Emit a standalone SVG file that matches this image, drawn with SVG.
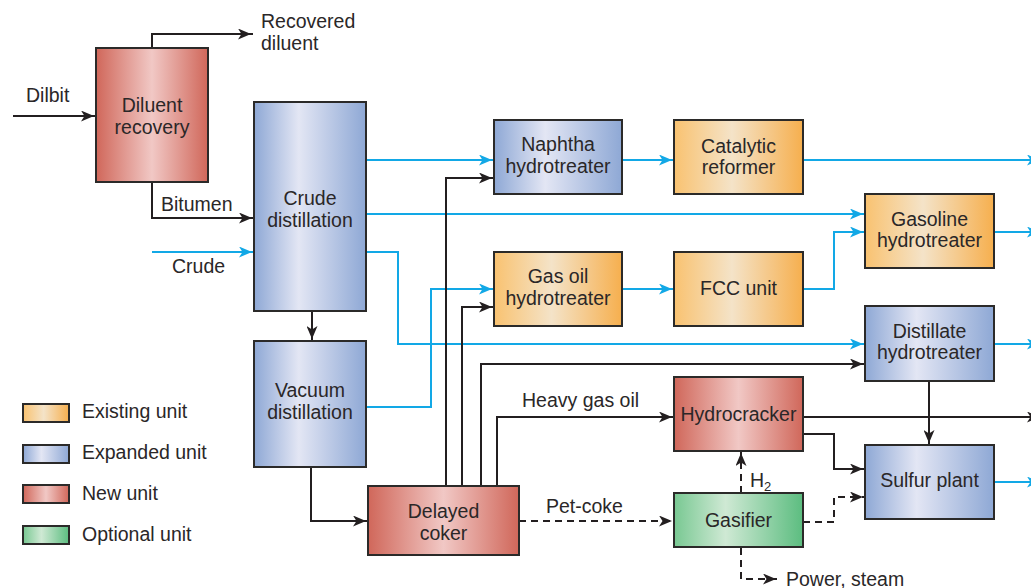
<svg xmlns="http://www.w3.org/2000/svg" width="1031" height="588" viewBox="0 0 1031 588">
<style>
text{font-family:"Liberation Sans",Arial,sans-serif;font-size:19.5px;fill:#2A2728}
.n text{text-anchor:middle}
.box{stroke:#2B2A29;stroke-width:2}
.k{fill:none;stroke:#231F20;stroke-width:2;marker-end:url(#ak)}
.b{fill:none;stroke:#12A8E6;stroke-width:2;marker-end:url(#ab)}
.d{fill:none;stroke:#231F20;stroke-width:2;stroke-dasharray:7 5}
.da{marker-end:url(#ak)}
</style>
<defs>
<linearGradient id="go"><stop offset="0" stop-color="#F9C270"/><stop offset="0.45" stop-color="#F4E3C8"/><stop offset="1" stop-color="#F6AF4E"/></linearGradient>
<linearGradient id="gb"><stop offset="0" stop-color="#8EA8D5"/><stop offset="0.4" stop-color="#E3E6F4"/><stop offset="1" stop-color="#8EA8D5"/></linearGradient>
<linearGradient id="gr"><stop offset="0" stop-color="#D0675A"/><stop offset="0.5" stop-color="#F1C8C5"/><stop offset="1" stop-color="#D0675A"/></linearGradient>
<linearGradient id="gg"><stop offset="0" stop-color="#78C892"/><stop offset="0.4" stop-color="#CFE9D4"/><stop offset="1" stop-color="#5CBD80"/></linearGradient>
<marker id="ak" markerUnits="userSpaceOnUse" viewBox="0 0 15 11" markerWidth="15" markerHeight="11" refX="15" refY="5.5" orient="auto"><path d="M0,0 L13,5.5 L0,11 L3.5,5.5 z" fill="#231F20"/></marker>
<marker id="ab" markerUnits="userSpaceOnUse" viewBox="0 0 15 11" markerWidth="15" markerHeight="11" refX="15" refY="5.5" orient="auto"><path d="M0,0 L13,5.5 L0,11 L3.5,5.5 z" fill="#12A8E6"/></marker>
</defs>
<rect width="1031" height="588" fill="#FFFFFF"/>

<g id="connectors">
<path class="k" d="M13,116 H96"/>
<path class="k" d="M152,48 V34 H253"/>
<path class="k" d="M152,182 V218 H254"/>
<path class="b" d="M152,252 H254"/>
<path class="b" d="M366,160 H494"/>
<path class="b" d="M366,214 H865"/>
<path class="b" d="M366,252 H398 V344 H865"/>
<path class="k" d="M312,311 V341"/>
<path class="b" d="M366,407 H431 V289 H494"/>
<path class="k" d="M311,467 V521 H368"/>
<path class="k" d="M446,486 V178 H494"/>
<path class="k" d="M462,486 V307 H494"/>
<path class="k" d="M481,486 V364 H865"/>
<path class="k" d="M497,486 V417 H674"/>
<path class="d da" d="M519,521 H674"/>
<path class="b" d="M622,160 H674"/>
<path class="b" d="M622,289 H674"/>
<path class="b" d="M803,160 H1042"/>
<path class="b" d="M803,289 H834 V232 H865"/>
<path class="b" d="M994,232 H1042"/>
<path class="b" d="M994,344 H1042"/>
<path class="k" d="M929,381 V445"/>
<path class="k" d="M803,417 H1042"/>
<path class="k" d="M803,434 H834 V469 H865"/>
<path class="d da" d="M741,493 V451"/>
<path class="d da" d="M803,522 H834 V497 H865"/>
<path class="d da" d="M741,548 V579 H778"/>
<path class="b" d="M994,482 H1042"/>
</g>

<g id="labels">
<text x="261" y="28">Recovered</text>
<text x="261" y="50">diluent</text>
<text x="26" y="102">Dilbit</text>
<text x="161" y="211">Bitumen</text>
<text x="172" y="273">Crude</text>
<text x="522" y="407">Heavy gas oil</text>
<text x="546" y="513">Pet-coke</text>
<text x="750" y="487">H<tspan font-size="13" dy="4">2</tspan></text>
<text x="786" y="586">Power, steam</text>
</g>

<g id="diluent-recovery" class="n"><rect class="box" x="96" y="48" width="112" height="134" fill="url(#gr)"/><text x="152" y="112">Diluent</text><text x="152" y="134">recovery</text></g>
<g id="crude-distillation" class="n"><rect class="box" x="254" y="102" width="112" height="209" fill="url(#gb)"/><text x="310" y="205">Crude</text><text x="310" y="227">distillation</text></g>
<g id="vacuum-distillation" class="n"><rect class="box" x="254" y="341" width="112" height="126" fill="url(#gb)"/><text x="310" y="397">Vacuum</text><text x="310" y="419">distillation</text></g>
<g id="naphtha-hydrotreater" class="n"><rect class="box" x="494" y="120" width="128" height="74" fill="url(#gb)"/><text x="558" y="151">Naphtha</text><text x="558" y="173">hydrotreater</text></g>
<g id="gas-oil-hydrotreater" class="n"><rect class="box" x="494" y="252" width="128" height="74" fill="url(#go)"/><text x="558" y="283">Gas oil</text><text x="558" y="305">hydrotreater</text></g>
<g id="catalytic-reformer" class="n"><rect class="box" x="674" y="120" width="129" height="74" fill="url(#go)"/><text x="738.5" y="153">Catalytic</text><text x="738.5" y="174">reformer</text></g>
<g id="fcc-unit" class="n"><rect class="box" x="674" y="252" width="129" height="74" fill="url(#go)"/><text x="738.5" y="295">FCC unit</text></g>
<g id="gasoline-hydrotreater" class="n"><rect class="box" x="865" y="194" width="129" height="74" fill="url(#go)"/><text x="929.5" y="226">Gasoline</text><text x="929.5" y="247">hydrotreater</text></g>
<g id="distillate-hydrotreater" class="n"><rect class="box" x="865" y="306" width="129" height="75" fill="url(#gb)"/><text x="929.5" y="338">Distillate</text><text x="929.5" y="359">hydrotreater</text></g>
<g id="hydrocracker" class="n"><rect class="box" x="674" y="377" width="129" height="74" fill="url(#gr)"/><text x="738.5" y="421">Hydrocracker</text></g>
<g id="sulfur-plant" class="n"><rect class="box" x="865" y="445" width="129" height="74" fill="url(#gb)"/><text x="929.5" y="487">Sulfur plant</text></g>
<g id="gasifier" class="n"><rect class="box" x="674" y="493" width="129" height="54" fill="url(#gg)"/><text x="738.5" y="527">Gasifier</text></g>
<g id="delayed-coker" class="n"><rect class="box" x="368" y="486" width="151" height="69" fill="url(#gr)"/><text x="443.5" y="518">Delayed</text><text x="443.5" y="540">coker</text></g>

<g id="legend">
<rect class="box" x="23" y="404" width="46" height="18" fill="url(#go)"/><text x="82" y="418">Existing unit</text>
<rect class="box" x="23" y="445" width="46" height="18" fill="url(#gb)"/><text x="82" y="459">Expanded unit</text>
<rect class="box" x="23" y="485" width="46" height="18" fill="url(#gr)"/><text x="82" y="500">New unit</text>
<rect class="box" x="23" y="526" width="46" height="18" fill="url(#gg)"/><text x="82" y="541">Optional unit</text>
</g>
</svg>
